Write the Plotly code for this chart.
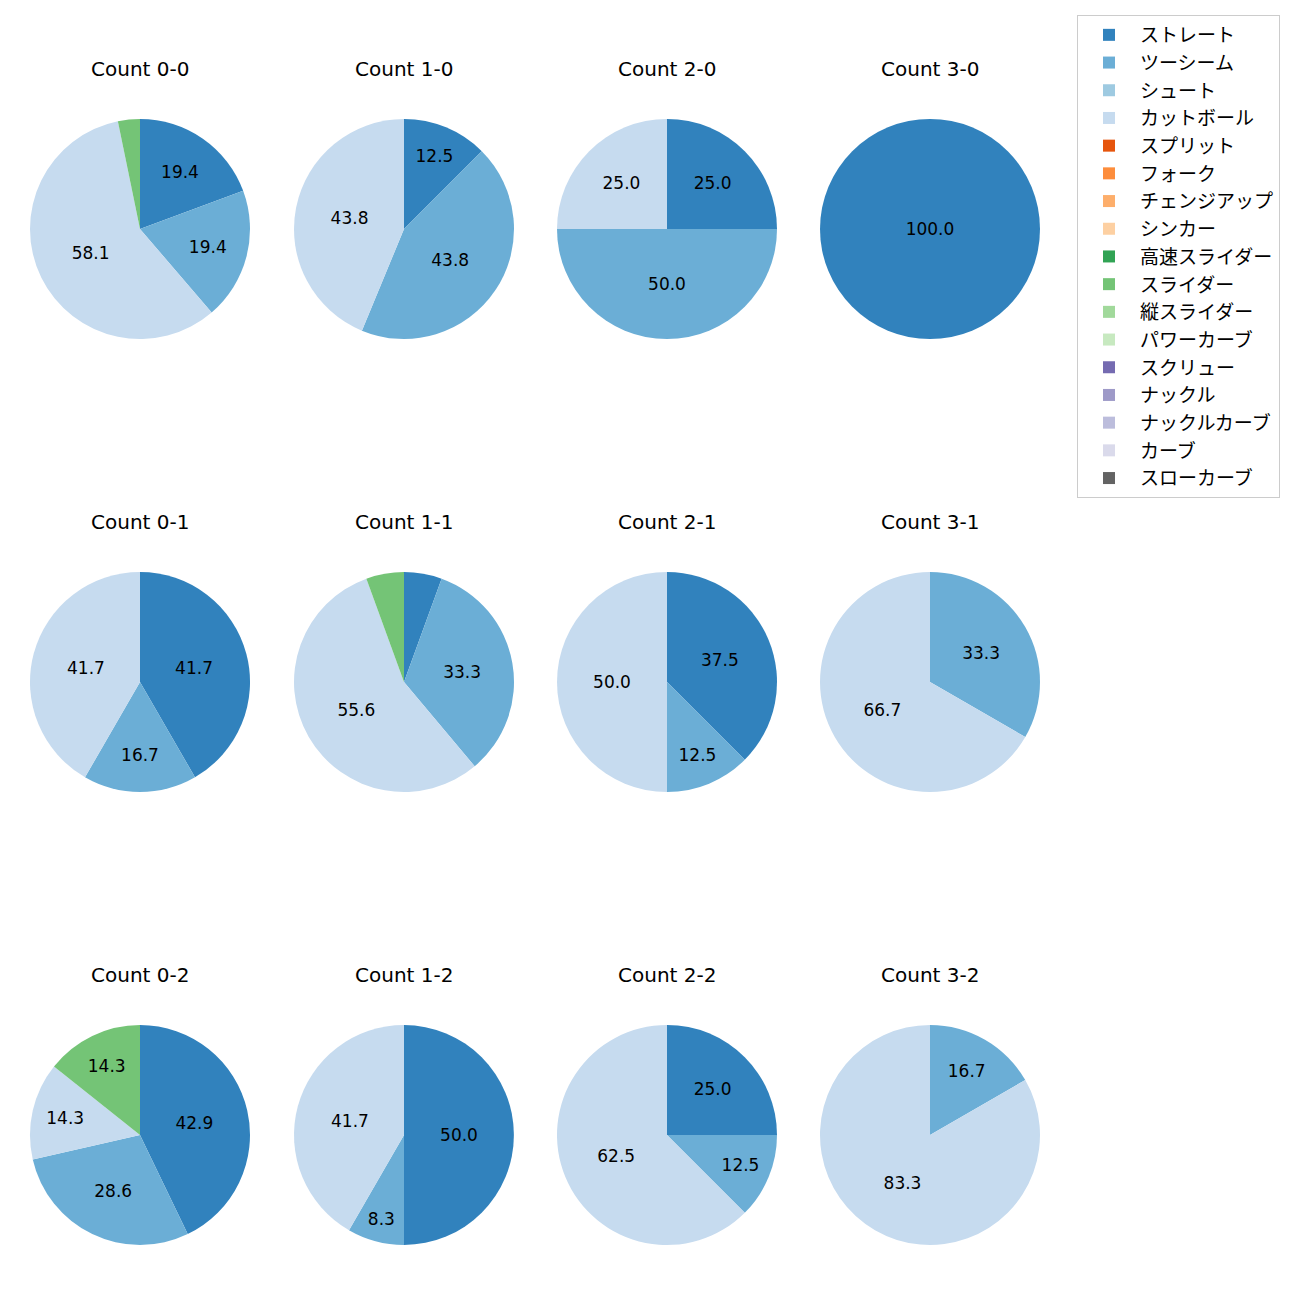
import plotly.graph_objects as go

pitch_types = ["ストレート", "ツーシーム", "シュート", "カットボール", "スプリット", "フォーク",
               "チェンジアップ", "シンカー", "高速スライダー", "スライダー", "縦スライダー",
               "パワーカーブ", "スクリュー", "ナックル", "ナックルカーブ", "カーブ", "スローカーブ"]
colors = ["#3182bd", "#6baed6", "#9ecae1", "#c6dbef", "#e6550d", "#fd8d3c", "#fdae6b", "#fdd0a2",
          "#31a354", "#74c476", "#a1d99b", "#c7e9c0", "#756bb1", "#9e9ac8", "#bcbddc", "#dadaeb", "#636363"]

# counts per ball-strike situation (only non-zero types listed)
counts = {
    "0-0": {"ストレート": 6, "ツーシーム": 6, "カットボール": 18, "スライダー": 1},
    "1-0": {"ストレート": 2, "ツーシーム": 7, "カットボール": 7},
    "2-0": {"ストレート": 1, "ツーシーム": 2, "カットボール": 1},
    "3-0": {"ストレート": 1},
    "0-1": {"ストレート": 5, "ツーシーム": 2, "カットボール": 5},
    "1-1": {"ストレート": 1, "ツーシーム": 6, "カットボール": 10, "スライダー": 1},
    "2-1": {"ストレート": 3, "ツーシーム": 1, "カットボール": 4},
    "3-1": {"ツーシーム": 1, "カットボール": 2},
    "0-2": {"ストレート": 3, "ツーシーム": 2, "カットボール": 1, "スライダー": 1},
    "1-2": {"ストレート": 6, "ツーシーム": 1, "カットボール": 5},
    "2-2": {"ストレート": 2, "ツーシーム": 1, "カットボール": 5},
    "3-2": {"ツーシーム": 1, "カットボール": 5},
}
balls = ["0", "1", "2", "3"]
strikes = ["0", "1", "2"]

W = H = 1300
col_cx = [140, 404, 667, 930]
row_cy = [229, 682, 1135]
R = 110
LATIN = "DejaVu Sans, Noto Sans CJK JP, sans-serif"
CJK = "Noto Sans CJK JP, sans-serif"

fig = go.Figure()
annotations = []
first = True
for ri, s in enumerate(strikes):
    for ci, b in enumerate(balls):
        key = f"{b}-{s}"
        d = counts[key]
        vals = [d.get(p, 0) for p in pitch_types]
        tot = sum(vals)
        texts = []
        for v in vals:
            pct = 100 * v / tot
            texts.append(f"{pct:.1f}" if pct >= 7 else "")
        cx, cy = col_cx[ci], row_cy[ri]
        fig.add_trace(go.Pie(
            labels=pitch_types, values=vals, text=texts, textinfo="text",
            textposition="inside", insidetextorientation="horizontal",
            textfont=dict(size=17, color="black", family=LATIN),
            marker=dict(colors=colors, line=dict(width=0)),
            sort=False, direction="clockwise", rotation=0,
            domain=dict(x=[(cx - R) / W, (cx + R) / W], y=[1 - (cy + R) / H, 1 - (cy - R) / H]),
            showlegend=first, hoverinfo="label+percent",
        ))
        first = False
        annotations.append(dict(
            x=cx / W, y=1 - (cy - 160) / H, xref="paper", yref="paper",
            text=f"Count {key}", showarrow=False, xanchor="center", yanchor="middle",
            font=dict(size=20, color="black", family=LATIN),
        ))

fig.update_layout(
    width=W, height=H, margin=dict(l=0, r=0, t=0, b=0),
    paper_bgcolor="white", plot_bgcolor="white",
    annotations=annotations,
    uniformtext=dict(minsize=17, mode="show"),
    legend=dict(x=1077 / W, y=1 - 15 / H, xanchor="left", yanchor="top",
                bordercolor="#cccccc", borderwidth=1, bgcolor="white", itemwidth=52,
                font=dict(size=19, color="black", family=CJK), traceorder="normal"),
)
fig.write_html("out.html")
